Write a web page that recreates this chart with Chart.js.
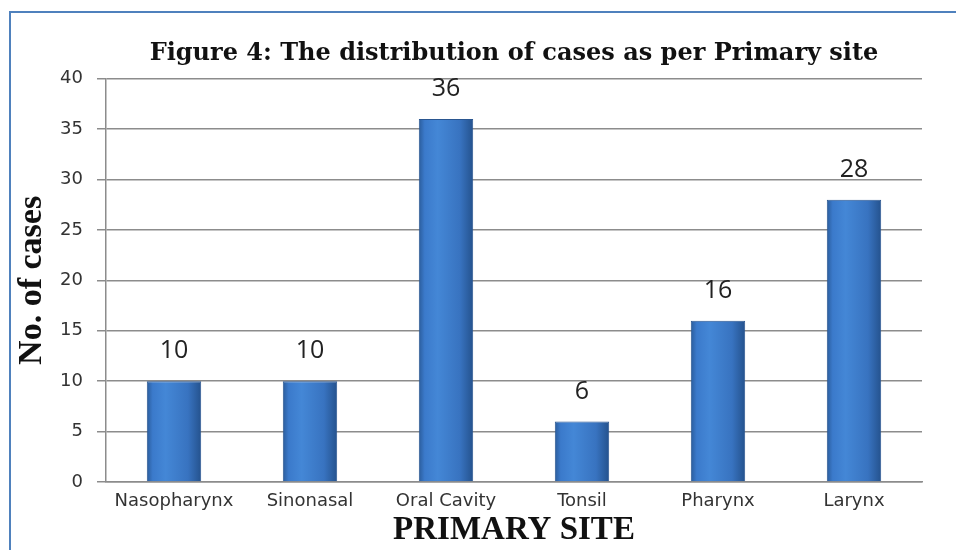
<!DOCTYPE html>
<html>
<head>
<meta charset="utf-8">
<script src="https://cdn.jsdelivr.net/npm/chart.js@4.4.1/dist/chart.umd.min.js"></script>
<style>
    html, body { margin: 0; padding: 0; background: #fff; }
    #wrap { position: relative; width: 956px; height: 550px; }
    #frame {
        position: absolute; left: 9px; top: 11px; right: -4px; bottom: -4px;
        border-left: 2px solid #4f81bd; border-top: 2px solid #4f81bd;
        pointer-events: none;
    }
</style>
</head>
<body>
<div id="wrap">
    <canvas id="chart" width="956" height="550"></canvas>
    <div id="frame"></div>
</div>
<script>
// Данные графика
const sites = ['Nasopharynx', 'Sinonasal', 'Oral Cavity', 'Tonsil', 'Pharynx', 'Larynx'];
const cases = [10, 10, 36, 6, 16, 28];
const yTicks = [0, 5, 10, 15, 20, 25, 30, 35, 40];

// Подписи значений над столбцами
const valueLabels = {
    id: 'valueLabels',
    afterDatasetsDraw(chart) {
        const { ctx } = chart;
        const meta = chart.getDatasetMeta(0);
        ctx.save();
        ctx.font = '25px "Open Sans"';
        ctx.fillStyle = '#222';
        ctx.textAlign = 'center';
        ctx.textBaseline = 'middle';
        meta.data.forEach((bar, i) => {
            ctx.fillText(String(cases[i]), bar.x, bar.y - 30);
        });
        ctx.restore();
    }
};

function barGradient(context) {
    const chart = context.chart;
    const xScale = chart.scales.x;
    if (!chart.chartArea || !xScale || context.dataIndex === undefined) return '#3c78c8';
    const cx = xScale.getPixelForValue(context.dataIndex);
    const half = 28;
    const g = chart.ctx.createLinearGradient(cx - half, 0, cx + half, 0);
    g.addColorStop(0, '#285895');
    g.addColorStop(0.12, '#3b7acb');
    g.addColorStop(0.35, '#4487d6');
    g.addColorStop(0.75, '#3873c0');
    g.addColorStop(1, '#23508a');
    return g;
}

const ctx = document.getElementById('chart').getContext('2d');
new Chart(ctx, {
    type: 'bar',
    data: {
        labels: sites,
        datasets: [{
            data: cases,
            backgroundColor: barGradient,
            borderColor: '#2a5690',
            borderWidth: 1,
            barPercentage: 0.8,
            categoryPercentage: 0.5
        }]
    },
    plugins: [valueLabels],
    options: {
        responsive: false,
        animation: false,
        layout: {
            padding: { left: 12, right: 34, top: 0, bottom: 0 }
        },
        plugins: {
            legend: { display: false },
            tooltip: { enabled: false },
            title: {
                display: true,
                fullSize: false,
                text: 'Figure 4: The distribution of cases as per Primary site',
                color: '#111',
                font: { family: '"DejaVu Serif"', size: 24, weight: 'bold' },
                padding: { top: 39, bottom: 11 }
            }
        },
        scales: {
            x: {
                afterFit(scale) {
                    scale.height = 68;
                },
                grid: { display: false, drawTicks: false },
                border: { display: true, color: '#8c8c8c', width: 1.5 },
                ticks: {
                    color: '#333',
                    font: { family: '"DejaVu Sans"', size: 18 },
                    padding: 9,
                    maxRotation: 0
                },
                title: {
                    display: true,
                    text: 'PRIMARY SITE',
                    color: '#111',
                    font: { family: '"Liberation Serif"', size: 33, weight: 'bold' },
                    padding: { top: 0, bottom: 0 }
                }
            },
            y: {
                min: 0,
                max: 40,
                afterBuildTicks(scale) {
                    scale.ticks = yTicks.map(v => ({ value: v }));
                },
                afterFit(scale) {
                    scale.width = 94;
                },
                grid: {
                    color: '#8c8c8c',
                    lineWidth: 1.5,
                    tickLength: 9
                },
                border: { display: true, color: '#8c8c8c', width: 1.5 },
                ticks: {
                    color: '#333',
                    font: { family: '"DejaVu Sans"', size: 18 },
                    padding: 14
                },
                title: {
                    display: true,
                    text: 'No. of cases',
                    color: '#111',
                    font: { family: '"Liberation Serif"', size: 34, weight: 'bold' },
                    padding: { top: 0, bottom: 0 }
                }
            }
        }
    }
});
</script>
</body>
</html>
